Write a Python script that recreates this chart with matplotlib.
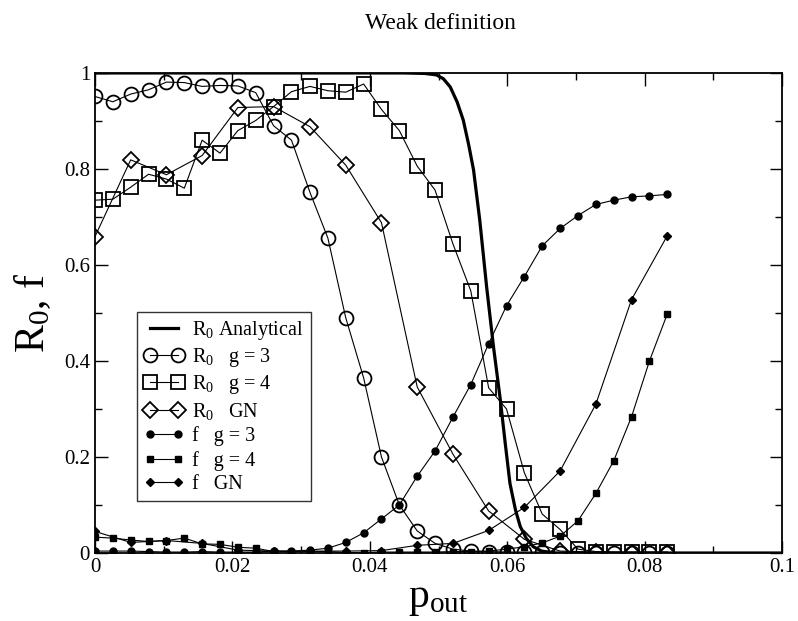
import matplotlib
matplotlib.use('Agg')
import matplotlib.pyplot as plt
from matplotlib.ticker import MultipleLocator, FormatStrFormatter

plt.rcParams['font.family'] = ['Liberation Serif', 'DejaVu Serif']
plt.rcParams['mathtext.fontset'] = 'custom'
plt.rcParams['mathtext.rm'] = 'Liberation Serif'
plt.rcParams['mathtext.it'] = 'Liberation Serif:italic'
plt.rcParams['mathtext.default'] = 'regular'

# p_out grid (z_out / 96, z_out step 0.25)
p_out = [0, 0.0026, 0.0052, 0.0078, 0.0104, 0.013, 0.0156, 0.0182, 0.0208, 0.0234,
         0.026, 0.0286, 0.0313, 0.0339, 0.0365, 0.0391, 0.0417, 0.0443, 0.0469, 0.0495,
         0.0521, 0.0547, 0.0573, 0.0599, 0.0625, 0.0651, 0.0677, 0.0703, 0.0729, 0.0755,
         0.0781, 0.0807, 0.0833]
p_out_gn = p_out[::2]

r0_g3 = [0.951, 0.940, 0.956, 0.965, 0.981, 0.980, 0.972, 0.974, 0.973, 0.959,
         0.890, 0.860, 0.751, 0.656, 0.490, 0.365, 0.200, 0.100, 0.046, 0.020,
         0.008, 0.004, 0.003, 0.002, 0.002, 0.002, 0.001, 0.001, 0.001, 0.001,
         0.001, 0.001, 0.001]
r0_g4 = [0.735, 0.737, 0.762, 0.789, 0.779, 0.760, 0.860, 0.833, 0.880, 0.901,
         0.930, 0.961, 0.972, 0.963, 0.960, 0.977, 0.924, 0.880, 0.806, 0.756,
         0.644, 0.546, 0.344, 0.300, 0.167, 0.081, 0.049, 0.008, 0.003, 0.002,
         0.002, 0.002, 0.002]
r0_gn = [0.659, 0.819, 0.788, 0.828, 0.928, 0.930, 0.888, 0.808, 0.688, 0.346,
         0.206, 0.0875, 0.0285, 0.004, 0.002, 0.001, 0.001]

f_g3 = [0.004, 0.004, 0.004, 0.003, 0.002, 0.002, 0.003, 0.002, 0.002, 0.002,
        0.004, 0.004, 0.006, 0.010, 0.022, 0.042, 0.071, 0.100, 0.160, 0.2125,
        0.283, 0.351, 0.436, 0.515, 0.576, 0.640, 0.676, 0.703, 0.726, 0.735,
        0.742, 0.744, 0.747]
f_g4 = [0.033, 0.031, 0.027, 0.024, 0.026, 0.031, 0.019, 0.018, 0.012, 0.010,
        0.003, 0.003, 0.003, 0.003, 0.001, 0.001, 0.002, 0.002, 0.002, 0.002,
        0.003, 0.003, 0.004, 0.008, 0.013, 0.021, 0.035, 0.067, 0.124, 0.192,
        0.284, 0.400, 0.498]
f_gn = [0.045, 0.022, 0.026, 0.020, 0.006, 0.004, 0.004, 0.004, 0.005, 0.016,
        0.020, 0.047, 0.095, 0.171, 0.310, 0.528, 0.661]

# analytical curve
p_an = [0, 0.045, 0.048, 0.0497, 0.0507, 0.0517, 0.0527, 0.0536, 0.0544, 0.0551,
        0.0560, 0.0570, 0.0580, 0.0590, 0.0597, 0.0604, 0.0612, 0.0619, 0.0628,
        0.0638, 0.065, 0.067, 0.1]
r0_an = [1, 1, 0.999, 0.996, 0.988, 0.971, 0.94, 0.902, 0.85, 0.798,
         0.694, 0.555, 0.43, 0.319, 0.23, 0.145, 0.09, 0.055, 0.03,
         0.013, 0.004, 0, 0]

fig = plt.figure(figsize=(7.98, 6.21), dpi=100)
ax = fig.add_axes([0.119, 0.1095, 0.861, 0.773])

thin = 0.8
ax.plot(p_an, r0_an, color='black', lw=2.3, label=r'R$_0$ Analytical')
ax.plot(p_out, r0_g3, color='black', lw=thin, marker='o', ms=10, mfc='none',
        mec='black', mew=1.3, label=r'R$_0$   g = 3')
ax.plot(p_out, r0_g4, color='black', lw=thin, marker='s', ms=9.5, mfc='none',
        mec='black', mew=1.3, label=r'R$_0$   g = 4')
ax.plot(p_out_gn, r0_gn, color='black', lw=thin, marker='D', ms=8, mfc='none',
        mec='black', mew=1.3, label=r'R$_0$   GN')
ax.plot(p_out, f_g3, color='black', lw=thin, marker='o', ms=5, label='f   g = 3')
ax.plot(p_out, f_g4, color='black', lw=thin, marker='s', ms=4.5, label='f   g = 4')
ax.plot(p_out_gn, f_gn, color='black', lw=thin, marker='D', ms=3.8, label='f   GN')

ax.set_xlim(0, 0.1)
ax.set_ylim(0, 1)
ax.xaxis.set_major_locator(MultipleLocator(0.02))
ax.xaxis.set_minor_locator(MultipleLocator(0.01))
ax.yaxis.set_major_locator(MultipleLocator(0.2))
ax.yaxis.set_minor_locator(MultipleLocator(0.1))
ax.xaxis.set_major_formatter(FormatStrFormatter('%g'))
ax.yaxis.set_major_formatter(FormatStrFormatter('%g'))
ax.tick_params(which='both', direction='in', top=True, right=True, labelsize=15)
ax.tick_params(which='major', length=9, width=1)
ax.tick_params(which='minor', length=5, width=1)
for s in ax.spines.values():
    s.set_linewidth(1.3)

ax.set_xlabel(r'p$_{out}$', fontsize=30, labelpad=2)
ax.set_ylabel(r'R$_0$, f', fontsize=30, labelpad=8)
fig.text(0.552, 0.962, 'Weak definition', fontsize=17, ha='center', va='center')

leg = ax.legend(loc='lower left', bbox_to_anchor=(0.061, 0.108), numpoints=2,
                fontsize=14.5, frameon=True, fancybox=False, handlelength=2.0,
                labelspacing=0.22, borderpad=0.35, handletextpad=0.4,
                borderaxespad=0)
leg.get_frame().set_edgecolor('black')
leg.get_frame().set_linewidth(1.0)

fig.savefig('out.png', dpi=100)
